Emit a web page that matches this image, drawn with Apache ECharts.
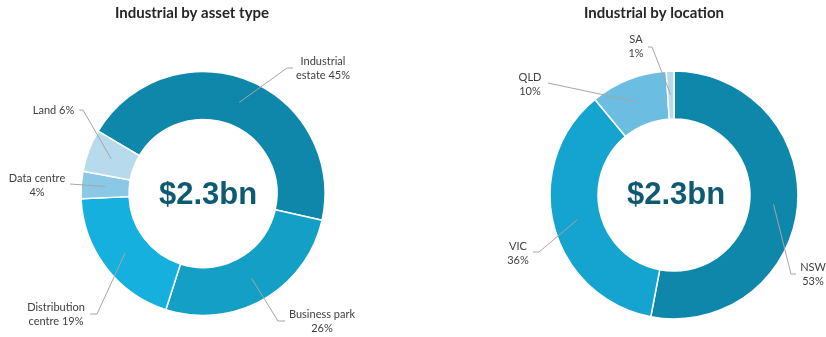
<!DOCTYPE html>
<html>
<head>
<meta charset="utf-8">
<script src="https://cdn.jsdelivr.net/npm/echarts@6/dist/echarts.min.js"></script>
<style>
  html, body { margin: 0; padding: 0; background: #fff; }
  #chart { width: 826px; height: 337px; }
</style>
</head>
<body>
<div id="chart"></div>
<script>
// ---- data ----
var assetNames = ['Industrial estate', 'Business park', 'Distribution centre', 'Data centre', 'Land'];
// shares (labels show them rounded)
var assetValues = [45, 26.4, 19.4, 3.6, 5.6];
// label text, with the line breaks used in the picture
var assetLabels = ['Industrial\nestate', 'Business park\n', 'Distribution\ncentre', 'Data centre\n', 'Land'];

var locationNames = ['NSW', 'VIC', 'QLD', 'SA'];
var locationValues = [53, 36, 10, 1];
var locationLabels = ['NSW\n', 'VIC\n', 'QLD\n', 'SA\n'];

var totalText = '$2.3bn';
var titles = ['Industrial by asset type', 'Industrial by location'];

// ---- style ----
var assetColors = ['#0e87aa', '#139fc6', '#16b0de', '#8ac8e6', '#b7dbed'];
var locationColors = ['#0e87aa', '#14a4cf', '#6cbde2', '#b7dbed'];
var textColor = '#404040';
var lineColor = '#a6a6a6';
var fontFamily = 'Lato, "Open Sans", sans-serif';

var leftPie = { center: [203, 193.5], radius: [74, 122], start: 149.3 };
var rightPie = { center: [674, 195], radius: [76, 124], start: 90 };

// label placement: label centre, elbow of the leader, end of the leader
var assetLabelPos = [
  { at: [323, 68.5], elbow: [287, 68], end: [293, 68] },
  { at: [322, 321.5], elbow: [278, 321], end: [285, 321] },
  { at: [56, 314.5], elbow: [97, 314], end: [90, 314] },
  { at: [37, 185], elbow: [70, 184], end: [70, 184] },
  { at: [53.5, 110], elbow: [83, 110], end: [79, 110] }
];
var locationLabelPos = [
  { at: [813, 274.5], elbow: [791, 274], end: [796, 274] },
  { at: [518, 253], elbow: [539, 252], end: [533, 252] },
  { at: [530, 84], elbow: [548, 83], end: [548, 83] },
  { at: [636, 46.5], elbow: [652, 47], end: [648, 47] }
];

function buildData (names, values, colors) {
  return names.map(function (n, i) {
    return { name: n, value: values[i], itemStyle: { color: colors ? colors[i] : 'rgba(0,0,0,0)' } }
  })
}

function labelText (labels) {
  return function (p) {
    var n = labels[p.dataIndex]
    return n + (n.slice(-1) === '\n' ? '' : ' ') + Math.round(p.percent) + '%'
  }
}

// leader lines start in the middle of the ring
function layoutFor (pie, positions) {
  var midR = (pie.radius[0] + pie.radius[1]) / 2
  return function (params) {
    var pos = positions[params.dataIndex]
    var p0 = params.labelLinePoints[0]
    var dx = p0[0] - pie.center[0]
    var dy = p0[1] - pie.center[1]
    var len = Math.sqrt(dx * dx + dy * dy) || 1
    var start = [pie.center[0] + dx / len * midR, pie.center[1] + dy / len * midR]
    return {
      x: pos.at[0],
      y: pos.at[1],
      align: 'center',
      verticalAlign: 'middle',
      labelLinePoints: [start, pos.elbow, pos.end]
    }
  }
}

// the coloured ring
function ringSeries (pie, names, values, colors) {
  return {
    type: 'pie',
    center: pie.center,
    radius: pie.radius,
    startAngle: pie.start,
    clockwise: true,
    silent: true,
    itemStyle: { borderColor: '#fff', borderWidth: 1.5 },
    label: { show: false },
    labelLine: { show: false },
    data: buildData(names, values, colors)
  }
}

// transparent copy on top, only for the labels so leaders sit over the ring
function labelSeries (pie, names, values, labels, positions) {
  return {
    type: 'pie',
    z: 5,
    center: pie.center,
    radius: pie.radius,
    startAngle: pie.start,
    clockwise: true,
    silent: true,
    itemStyle: { borderWidth: 0 },
    label: {
      show: true,
      position: 'outside',
      formatter: labelText(labels),
      color: textColor,
      fontFamily: fontFamily,
      fontSize: 11,
      lineHeight: 14,
      width: 120,
      overflow: 'none'
    },
    labelLine: {
      show: true,
      length: 10,
      length2: 10,
      lineStyle: { color: lineColor, width: 1 }
    },
    labelLayout: layoutFor(pie, positions),
    data: buildData(names, values, null)
  }
}

var titleStyle = { fontFamily: fontFamily, fontSize: 15, fontWeight: 'bold', color: '#262626' }
var totalStyle = { text: totalText, fill: '#0f5a73', font: 'bold 31px "Liberation Sans", Arial, sans-serif', textAlign: 'center', textVerticalAlign: 'middle' }

var chart = echarts.init(document.getElementById('chart'))
chart.setOption({
  backgroundColor: '#fff',
  animation: false,
  title: [
    { text: titles[0], left: 192, top: 6, textAlign: 'center', padding: 0, textStyle: titleStyle },
    { text: titles[1], left: 654, top: 6, textAlign: 'center', padding: 0, textStyle: titleStyle }
  ],
  graphic: [
    { type: 'text', x: 208, y: 195, style: totalStyle },
    { type: 'text', x: 676, y: 195, style: totalStyle }
  ],
  series: [
    ringSeries(leftPie, assetNames, assetValues, assetColors),
    ringSeries(rightPie, locationNames, locationValues, locationColors),
    labelSeries(leftPie, assetNames, assetValues, assetLabels, assetLabelPos),
    labelSeries(rightPie, locationNames, locationValues, locationLabels, locationLabelPos)
  ]
})
</script>
</body>
</html>
